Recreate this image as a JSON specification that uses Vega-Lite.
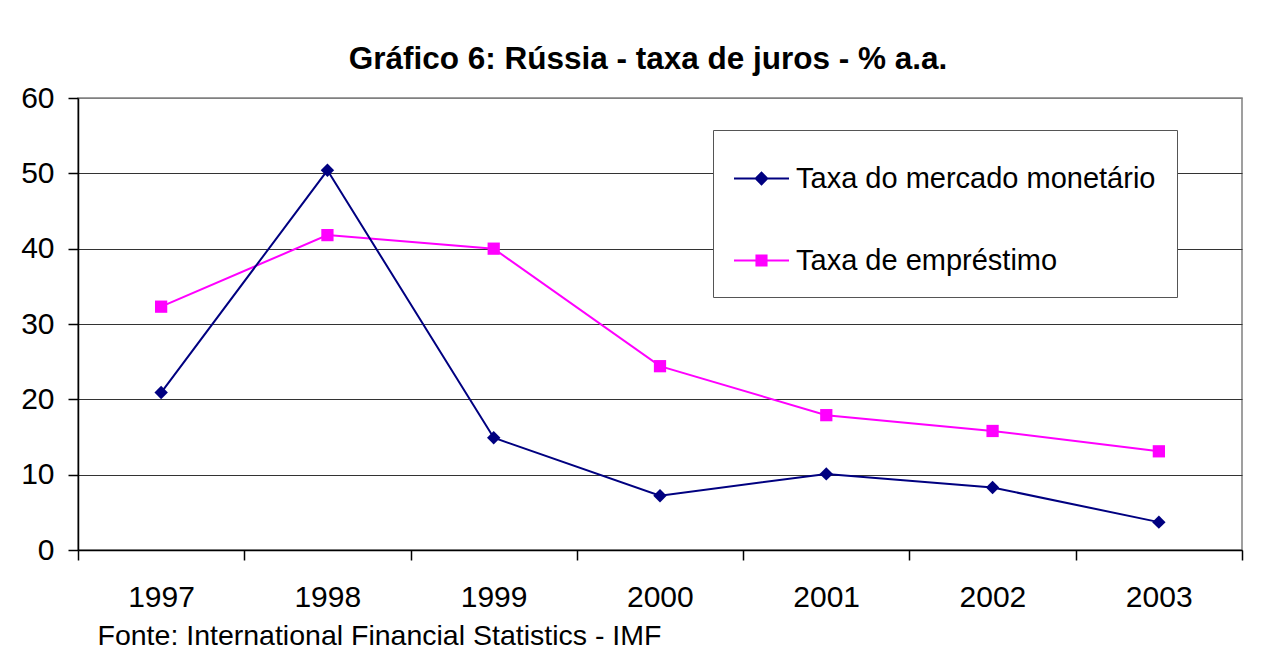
{
  "$schema": "https://vega.github.io/schema/vega-lite/v6.json",
  "width": 1164,
  "height": 452,
  "autosize": {"type": "none"},
  "padding": {"left": 78, "top": 98, "right": 28, "bottom": 96},
  "background": "white",
  "config": {
    "font": "Liberation Sans",
    "view": {"stroke": "#808080", "strokeWidth": 1.5},
    "axis": {"labelFont": "Liberation Sans", "titleFont": "Liberation Sans", "labelColor": "black", "titleColor": "black"}
  },
  "title": {
    "text": "Gráfico 6: Rússia - taxa de juros - % a.a.",
    "font": "Liberation Sans",
    "fontSize": 31.5,
    "fontWeight": "bold",
    "color": "black",
    "anchor": "middle",
    "dx": -12,
    "offset": 8
  },
  "data": {
    "values": [
      {"year": 1997, "series": "Taxa de empréstimo", "value": 32.3},
      {"year": 1998, "series": "Taxa de empréstimo", "value": 41.8},
      {"year": 1999, "series": "Taxa de empréstimo", "value": 40.0},
      {"year": 2000, "series": "Taxa de empréstimo", "value": 24.4},
      {"year": 2001, "series": "Taxa de empréstimo", "value": 17.9},
      {"year": 2002, "series": "Taxa de empréstimo", "value": 15.8},
      {"year": 2003, "series": "Taxa de empréstimo", "value": 13.1},
      {"year": 1997, "series": "Taxa do mercado monetário", "value": 20.9},
      {"year": 1998, "series": "Taxa do mercado monetário", "value": 50.4},
      {"year": 1999, "series": "Taxa do mercado monetário", "value": 14.9},
      {"year": 2000, "series": "Taxa do mercado monetário", "value": 7.2},
      {"year": 2001, "series": "Taxa do mercado monetário", "value": 10.1},
      {"year": 2002, "series": "Taxa do mercado monetário", "value": 8.3},
      {"year": 2003, "series": "Taxa do mercado monetário", "value": 3.7}
    ]
  },
  "encoding": {
    "x": {
      "field": "year",
      "type": "quantitative",
      "scale": {"domain": [1996.5, 2003.5], "nice": false, "zero": false},
      "axis": {
        "values": [1996.5, 1997.5, 1998.5, 1999.5, 2000.5, 2001.5, 2002.5, 2003.5],
        "labelExpr": "datum.value < 2003 ? format(datum.value + 0.5, 'd') : ''",
        "labelOffset": 83,
        "labelOverlap": false,
        "labelBound": false,
        "labelFlush": false,
        "labelFontSize": 30,
        "labelPadding": 22,
        "tickSize": 10,
        "tickColor": "black",
        "domainColor": "black",
        "domainWidth": 1.5,
        "tickWidth": 1.5,
        "grid": false,
        "title": "Fonte: International Financial Statistics - IMF",
        "titleFontSize": 28.5,
        "titleFontWeight": "normal",
        "titleAnchor": "start",
        "titleAlign": "left",
        "titleBaseline": "alphabetic",
        "titleX": 19,
        "titleY": 94
      }
    },
    "y": {
      "field": "value",
      "type": "quantitative",
      "scale": {"domain": [0, 60], "nice": false},
      "axis": {
        "values": [0, 10, 20, 30, 40, 50, 60],
        "labelFontSize": 30,
        "labelPadding": 14,
        "tickSize": 10,
        "tickColor": "black",
        "tickWidth": 1.5,
        "domainColor": "black",
        "domainWidth": 1.5,
        "grid": true,
        "gridColor": {"condition": {"test": "datum.value === 60", "value": "#808080"}, "value": "#333333"},
        "gridWidth": 1.2,
        "title": null
      }
    },
    "color": {
      "field": "series",
      "type": "nominal",
      "scale": {"domain": ["Taxa do mercado monetário", "Taxa de empréstimo"], "range": ["#000080", "#ff00ff"]},
      "legend": {
        "title": null,
        "orient": "none",
        "legendX": 635,
        "legendY": 32,
        "padding": 21,
        "fillColor": "white",
        "strokeColor": "#555555",
        "labelFontSize": 29,
        "labelFont": "Liberation Sans",
        "labelColor": "black",
        "labelLimit": 1000,
        "labelOffset": 7,
        "rowPadding": 39,
        "symbolSize": 3025,
        "symbolStrokeWidth": 0,
        "encode": {
          "symbols": {
            "update": {
              "shape": {"signal": "datum.value === 'Taxa do mercado monetário' ? 'M-1,-0.04L1,-0.04L1,0.04L-1,0.04Z M0,-0.26L0.26,0L0,0.26L-0.26,0Z' : 'M-1,-0.04L1,-0.04L1,0.04L-1,0.04Z M-0.22,-0.22L0.22,-0.22L0.22,0.22L-0.22,0.22Z'"},
              "fill": {"signal": "datum.value === 'Taxa do mercado monetário' ? '#000080' : '#ff00ff'"},
              "fillOpacity": {"value": 1},
              "strokeWidth": {"value": 0}
            }
          }
        }
      }
    }
  },
  "layer": [
    {"mark": {"type": "line", "strokeWidth": 2}},
    {
      "transform": [{"filter": "datum.series === 'Taxa de empréstimo'"}],
      "mark": {"type": "point", "filled": true, "opacity": 1, "size": 150, "shape": "square"}
    },
    {
      "transform": [{"filter": "datum.series === 'Taxa do mercado monetário'"}],
      "mark": {"type": "point", "filled": true, "opacity": 1, "size": 180, "shape": "diamond"}
    }
  ]
}
